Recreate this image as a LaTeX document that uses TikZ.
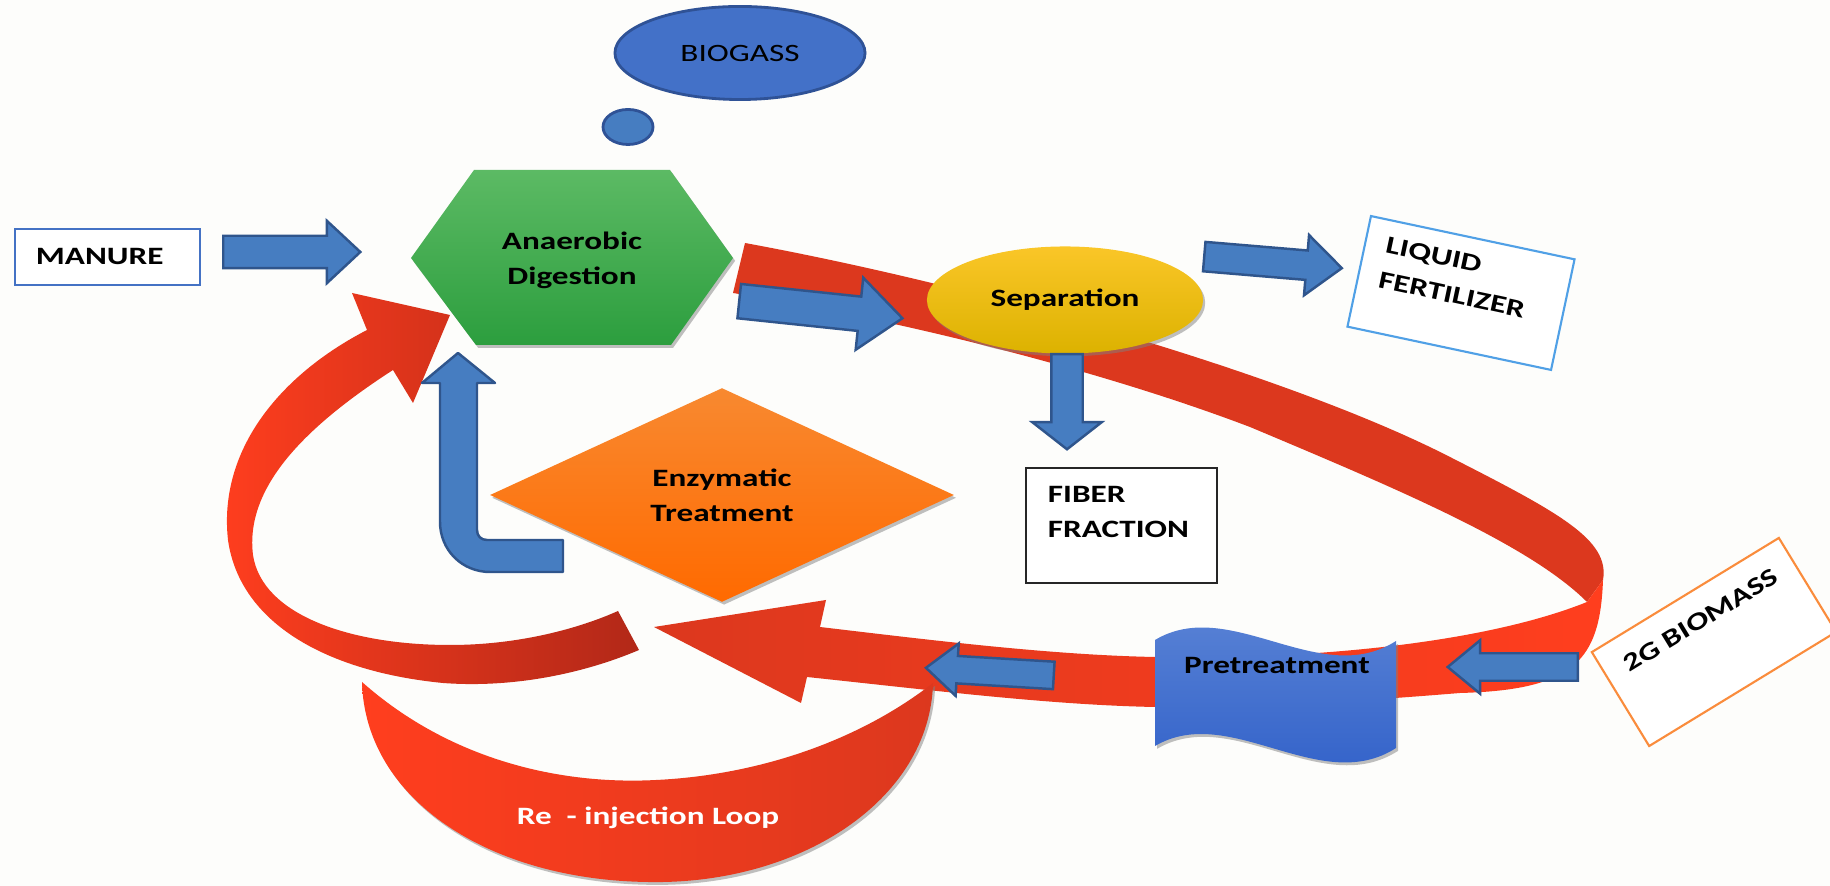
\documentclass[tikz,border=0pt]{standalone}
\usepackage{fontspec}
\setmainfont{Carlito}[FakeStretch=1.33]
\usetikzlibrary{shapes.geometric,shapes.arrows,shadows}

\definecolor{bgcol}{RGB}{253,253,251}
\definecolor{arrowblue}{RGB}{70,125,193}
\definecolor{arrowline}{RGB}{47,85,140}
\definecolor{gasblue}{RGB}{67,113,200}
\definecolor{gasline}{RGB}{47,82,150}
\definecolor{ribbonred}{RGB}{220,56,30}
\definecolor{brightred}{RGB}{255,62,30}
\definecolor{darkred}{RGB}{178,40,24}
\definecolor{hexlight}{RGB}{92,186,100}
\definecolor{hexdark}{RGB}{44,158,62}
\definecolor{enzlight}{RGB}{248,137,48}
\definecolor{enzdark}{RGB}{255,106,0}
\definecolor{seplight}{RGB}{250,198,40}
\definecolor{sepdark}{RGB}{220,178,0}
\definecolor{prelight}{RGB}{92,133,214}
\definecolor{predark}{RGB}{46,94,200}
\definecolor{boxblue}{RGB}{68,114,196}
\definecolor{boxsky}{RGB}{80,160,230}
\definecolor{boxorange}{RGB}{250,140,60}

\begin{document}
\begin{tikzpicture}[x=0.01cm,y=-0.01cm,
  lbl/.style={font=\fontsize{7.1}{10}\selectfont\bfseries, align=center, inner sep=0pt},
  blockarrow/.style={single arrow, draw=arrowline, fill=arrowblue, line width=0.7pt, inner xsep=0pt},
  softshadow/.style={drop shadow={shadow xshift=0.6pt, shadow yshift=-0.8pt, opacity=0.5}}]
\clip (0,0) rectangle (1830,886);
\fill[bgcol] (0,0) rectangle (1830,886);

% red ribbons
\fill[ribbonred] (745,243) .. controls (1000,290) and (1300,380) .. (1450,457) .. controls (1560,513) and (1610,540) .. (1603,580)
  -- (1587,602) .. controls (1530,545) and (1400,490) .. (1250,427) .. controls (1100,370) and (900,320) .. (733,293) -- cycle;
\shade[left color=ribbonred, right color=brightred] (1603,580) .. controls (1600,660) and (1575,690) .. (1460,693)
  .. controls (1350,702) and (1250,708) .. (1155,707) .. controls (1050,705) and (930,690) .. (807,677)
  -- (801,703) -- (654,627) -- (826,600) -- (820,627)
  .. controls (930,640) and (1050,655) .. (1155,657) .. controls (1300,660) and (1480,645) .. (1587,602) -- cycle;
\shade[left color=brightred, right color=darkred] (367,330) -- (352,293) -- (450,315) -- (413,403) -- (393,370)
  .. controls (300,430) and (245,490) .. (253,555) .. controls (262,615) and (350,645) .. (450,645) .. controls (520,645) and (580,628) .. (618,611)
  -- (639,650) .. controls (580,675) and (510,688) .. (443,683) .. controls (330,672) and (240,625) .. (228,540) .. controls (218,450) and (280,375) .. (367,330) -- cycle;
\shade[left color=brightred, right color=ribbonred, softshadow] (362,682) .. controls (450,760) and (560,785) .. (656,780) .. controls (760,775) and (860,740) .. (933,683)
  .. controls (930,800) and (800,885) .. (648,882) .. controls (490,880) and (365,800) .. (362,682) -- cycle;
\node[lbl, text=white] (reinject) at (648,818) {Re~ - injection Loop};

% process shapes
\shade[top color=hexlight, bottom color=hexdark, softshadow] (474,170) -- (670,170) -- (733,258) -- (671,345) -- (476,345) -- (411,258) -- cycle;
\node[lbl] (digest) at (572,260) {Anaerobic\\Digestion};
\node[diamond, aspect=2.17, minimum width=4.64cm, minimum height=2.14cm, top color=enzlight, bottom color=enzdark, softshadow, lbl] (enzyme) at (722,495) {Enzymatic\\Treatment};
\node[ellipse, minimum width=2.76cm, minimum height=1.07cm, top color=seplight, bottom color=sepdark, softshadow, lbl] (separ) at (1065,300) {Separation};
\shade[top color=prelight, bottom color=predark, softshadow] (1155,640) .. controls (1230,595) and (1320,690) .. (1396,641) -- (1396,748) .. controls (1320,797) and (1230,702) .. (1155,746) -- cycle;
\node[lbl] (pretreat) at (1277,666) {Pretreatment};
\node[ellipse, draw=gasline, fill=gasblue, line width=0.8pt, minimum width=2.5cm, minimum height=0.93cm, inner sep=0pt, font=\fontsize{7.1}{10}\selectfont] (biogas) at (740,53) {BIOGASS};
\node[ellipse, draw=gasline, fill=arrowblue, line width=0.8pt, minimum width=0.5cm, minimum height=0.35cm, inner sep=0pt] (bubble) at (628,127) {};

% boxes
\node[draw=boxblue, line width=0.7pt, fill=white, minimum width=1.85cm, minimum height=0.56cm, lbl, text width=1.43cm, align=left] (manure) at (107.5,257) {MANURE};
\node[draw=black!85, line width=0.7pt, fill=white, minimum width=1.91cm, minimum height=1.15cm, lbl, text width=1.47cm, align=left, text depth=0.63cm] (fiber) at (1121.5,525.5) {FIBER\\FRACTION};
\node[draw=boxsky, line width=0.6pt, fill=white, minimum width=2.08cm, minimum height=1.13cm, lbl, text width=1.66cm, align=left, text depth=0.63cm, rotate=-12] (liquid) at (1461,293) {LIQUID\\FERTILIZER};
\node[draw=boxorange, line width=0.6pt, fill=white, minimum width=2.19cm, minimum height=1.10cm, lbl, text height=0.17cm, text depth=0.52cm, rotate=31.4] (biomass) at (1714,642) {2G BIOMASS};

% blue arrows
\node[blockarrow, inner ysep=0.15cm, single arrow head extend=0.15cm, single arrow tip angle=86, minimum height=1.37cm, anchor=tail] (feedarrow) at (222,252) {};
\node[blockarrow, inner ysep=0.16cm, single arrow head extend=0.19cm, single arrow tip angle=80, minimum height=1.64cm, rotate=-6, anchor=tail] (digarrow) at (738,301) {};
\node[blockarrow, inner ysep=0.135cm, single arrow head extend=0.155cm, single arrow tip angle=81, minimum height=1.38cm, rotate=-4.8, anchor=tail] (liqarrow) at (1203,256.5) {};
\node[blockarrow, inner ysep=0.145cm, single arrow head extend=0.19cm, single arrow tip angle=104, minimum height=0.95cm, rotate=-90, anchor=tail] (fibarrow) at (1067,353) {};
\node[blockarrow, inner ysep=0.125cm, single arrow head extend=0.13cm, single arrow tip angle=79, minimum height=1.30cm, rotate=180, anchor=tail] (bioarrow) at (1579,667) {};
\node[blockarrow, inner ysep=0.125cm, single arrow head extend=0.125cm, single arrow tip angle=80, minimum height=1.28cm, rotate=176.6, anchor=tail] (prearrow) at (1055,675.5) {};
\draw[fill=arrowblue, draw=arrowline, line width=0.7pt, line join=round] (563,572) -- (490,572) .. controls (462,572) and (440,550) .. (440,522) -- (440,383) -- (422,383) -- (458,353) -- (495,383) -- (477,383) -- (477,530) .. controls (477,536) and (481,540) .. (487,540) -- (563,540) -- cycle;
\end{tikzpicture}
\end{document}
